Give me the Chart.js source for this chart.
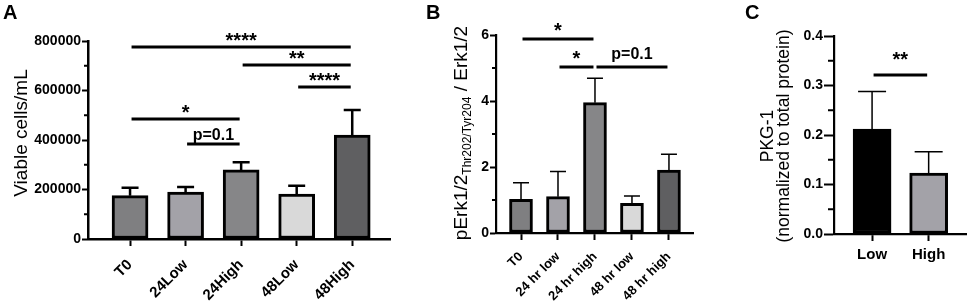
<!DOCTYPE html>
<html><head><meta charset="utf-8">
<script src="https://cdn.jsdelivr.net/npm/chart.js@4.4.0/dist/chart.umd.min.js"></script>
<style>
html,body{margin:0;padding:0;background:#fff;}
body{width:969px;height:307px;position:relative;overflow:hidden;}
canvas{position:absolute;top:0;}
</style></head><body>
<canvas id="cA" width="392" height="307" style="left:0px"></canvas>
<canvas id="cB" width="310" height="307" style="left:392px"></canvas>
<canvas id="cC" width="267" height="307" style="left:702px"></canvas>
<script>
// ---------- DATA ----------
const catsA = ['T0', '24Low', '24High', '48Low', '48High'];
const meanA = [175000, 190000, 279000, 182000, 420000];
const errA  = [32000, 20000, 31000, 33000, 101000];
const sigA  = [[0, 4, 776000, '****'], [2, 4, 703000, '**'], [3, 4, 614000, '****'], [0, 2, 485000, '*'], [1, 2, 384000, 'p=0.1']];

const catsB = ['T0', '24 hr low', '24 hr high', '48 hr low', '48 hr high'];
const meanB = [1.02, 1.10, 3.95, 0.90, 1.91];
const errB  = [0.50, 0.76, 0.74, 0.22, 0.48];
const sigB  = [[0, 2, 5.88, '*'], [1, 2, 5.03, '*'], [2, 4, 5.03, 'p=0.1']];

const catsC = ['Low', 'High'];
const meanC = [0.212, 0.123];
const errC  = [0.076, 0.043];
const sigC  = [[0, 1, 0.321, '**']];

const yTicksA = [0, 200000, 400000, 600000, 800000];
const yTicksB = [0, 2, 4, 6];
const yTicksC = [0, 0.1, 0.2, 0.3, 0.4];

const FONT = "'Liberation Sans', Arial, Helvetica, sans-serif";
const GREYS = ['#7f7f81', '#a3a2a8', '#868688', '#d9d9d9', '#5f5f61'];

function panel(cfg) {
  const deco = {
    id: 'deco' + cfg.id,
    afterDatasetsDraw(chart) {
      const ctx = chart.ctx, xs = chart.scales.x, ys = chart.scales.y;
      ctx.save();
      ctx.strokeStyle = '#000';
      ctx.lineWidth = cfg.errWidth;
      cfg.means.forEach((m, i) => {
        const x = xs.getPixelForValue(i);
        const y0 = ys.getPixelForValue(m);
        const y1 = ys.getPixelForValue(m + cfg.errs[i]);
        ctx.beginPath();
        ctx.moveTo(x, y0); ctx.lineTo(x, y1);
        ctx.moveTo(x - cfg.capW / 2, y1); ctx.lineTo(x + cfg.capW / 2, y1);
        ctx.stroke();
      });
      ctx.restore();
    },
    afterDraw(chart) {
      const ctx = chart.ctx, xs = chart.scales.x, ys = chart.scales.y;
      const ax = chart.chartArea.left;
      ctx.save();
      // minor ticks
      ctx.strokeStyle = '#000'; ctx.lineWidth = 2;
      const t = cfg.yTicks;
      for (let i = 0; i < t.length - 1; i++) {
        const y = ys.getPixelForValue((t[i] + t[i + 1]) / 2);
        ctx.beginPath(); ctx.moveTo(ax - cfg.minorLen, y); ctx.lineTo(ax, y); ctx.stroke();
      }
      // significance lines
      ctx.lineWidth = 3; ctx.fillStyle = '#000';
      ctx.textAlign = 'center'; ctx.textBaseline = 'alphabetic';
      cfg.sigs.forEach(s => {
        const x1 = xs.getPixelForValue(s[0]) + 1.5, x2 = xs.getPixelForValue(s[1]) - 1.5;
        const y = ys.getPixelForValue(s[2]);
        ctx.beginPath(); ctx.moveTo(x1, y); ctx.lineTo(x2, y); ctx.stroke();
        const star = s[3].indexOf('*') === 0;
        ctx.font = star ? 'bold 20px ' + FONT : 'bold 16px ' + FONT;
        ctx.fillText(s[3], (x1 + x2) / 2, y - (star ? cfg.starGap : cfg.textGap));
      });
      // panel letter
      ctx.textAlign = 'left';
      ctx.font = 'bold 20px ' + FONT;
      ctx.fillText(cfg.letter, cfg.letterX, 19);
      // y title
      ctx.translate(cfg.titleX, cfg.titleY);
      ctx.rotate(-Math.PI / 2);
      cfg.drawTitle(ctx);
      ctx.restore();
    }
  };
  return new Chart(document.getElementById(cfg.id), {
    type: 'bar',
    data: {
      labels: cfg.cats,
      datasets: [{
        data: cfg.means.map((v, i) => ({ x: i, y: v })),
        backgroundColor: cfg.colors,
        borderColor: '#000',
        borderWidth: 3,
        borderSkipped: false,
        barThickness: cfg.barW
      }]
    },
    options: {
      responsive: false,
      animation: false,
      devicePixelRatio: 1,
      layout: { padding: { left: 0, right: cfg.padR, top: cfg.top, bottom: 0 } },
      plugins: { legend: { display: false }, tooltip: { enabled: false } },
      scales: {
        x: {
          type: 'linear', min: cfg.xMin, max: cfg.xMax, offset: false,
          grid: { display: true, offset: false, drawOnChartArea: false, drawTicks: true, tickLength: 7, tickWidth: 2, tickColor: '#000' },
          border: { display: true, color: '#000', width: cfg.axisW },
          afterBuildTicks: s => { s.ticks = cfg.cats.map((c, i) => ({ value: i })); },
          afterFit: s => { s.height = cfg.xH; },
          ticks: {
            autoSkip: false, color: '#000',
            minRotation: cfg.rot, maxRotation: cfg.rot,
            padding: cfg.xPad,
            font: { family: FONT, size: cfg.xFont, weight: 'bold' },
            callback: v => cfg.cats[v]
          }
        },
        y: {
          min: cfg.yTicks[0], max: cfg.yTicks[cfg.yTicks.length - 1],
          grid: { drawOnChartArea: false, drawTicks: true, tickLength: cfg.majorLen, tickWidth: 2, tickColor: '#000' },
          border: { display: true, color: '#000', width: cfg.axisW },
          afterBuildTicks: s => { s.ticks = cfg.yTicks.map(v => ({ value: v })); },
          afterFit: s => { s.width = cfg.yW; },
          ticks: {
            color: '#000', padding: 1,
            font: { family: FONT, size: 14, weight: 'bold' },
            callback: v => cfg.fmt(v)
          }
        }
      }
    },
    plugins: [deco]
  });
}

// Panel A
panel({
  id: 'cA', cats: catsA, means: meanA, errs: errA, sigs: sigA, yTicks: yTicksA,
  colors: GREYS, barW: 36, errWidth: 2.5, capW: 17,
  xMin: -0.757, xMax: 4.68, yW: 88, padR: 2, top: 41, xH: 68,
  axisW: 2.5, majorLen: 6, minorLen: 4, rot: 45, xPad: 10, xFont: 15,
  fmt: v => String(v), starGap: 0, textGap: 4,
  letter: 'A', letterX: 3, titleX: 27, titleY: 133,
  drawTitle: ctx => {
    ctx.font = '19px ' + FONT; ctx.textAlign = 'center'; ctx.textBaseline = 'alphabetic';
    ctx.fillText('Viable cells/mL', 0, 0);
  }
});

// Panel B
panel({
  id: 'cB', cats: catsB, means: meanB, errs: errB, sigs: sigB, yTicks: yTicksB,
  colors: GREYS, barW: 23, errWidth: 1.5, capW: 16,
  xMin: -0.676, xMax: 4.65, yW: 104, padR: 9, top: 35, xH: 74,
  axisW: 2.2, majorLen: 6, minorLen: 4, rot: 45, xPad: 9, xFont: 13,
  fmt: v => String(v), starGap: 2, textGap: 8,
  letter: 'B', letterX: 34, titleX: 75, titleY: 133,
  drawTitle: ctx => {
    const a = 'pErk1/2', b = 'Thr202/Tyr204', c = ' / Erk1/2';
    ctx.textAlign = 'left'; ctx.textBaseline = 'alphabetic';
    ctx.font = '19px ' + FONT; const wa = ctx.measureText(a).width, wc = ctx.measureText(c).width;
    ctx.font = '12px ' + FONT; const wb = ctx.measureText(b).width;
    let x = -(wa + wb + wc) / 2;
    ctx.font = '19px ' + FONT; ctx.fillText(a, x, 0); x += wa;
    ctx.font = '12px ' + FONT; ctx.fillText(b, x, 4); x += wb;
    ctx.font = '19px ' + FONT; ctx.fillText(c, x, 0);
  }
});

// Panel C
panel({
  id: 'cC', cats: catsC, means: meanC, errs: errC, sigs: sigC, yTicks: yTicksC,
  colors: ['#000000', '#a3a2a8'], barW: 38, errWidth: 1.5, capW: 28,
  xMin: -0.673, xMax: 1.66, yW: 132, padR: 3, top: 36, xH: 73,
  axisW: 2.2, majorLen: 10, minorLen: 6, rot: 0, xPad: 5, xFont: 15,
  fmt: v => v.toFixed(1), starGap: 9, textGap: 8,
  letter: 'C', letterX: 43, titleX: 0, titleY: 136,
  drawTitle: ctx => {
    ctx.font = '17.5px ' + FONT; ctx.textAlign = 'center'; ctx.textBaseline = 'alphabetic';
    ctx.fillText('PKG-1', 0, 71);
    ctx.fillText('(normalized to total protein)', 0, 87);
  }
});
</script>
</body></html>
